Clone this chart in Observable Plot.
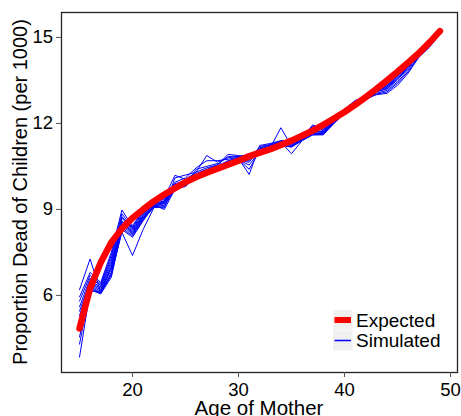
<!DOCTYPE html>
<html>
<head>
<meta charset="utf-8">
<script src="https://cdn.jsdelivr.net/npm/d3@7"></script>
<script src="https://cdn.jsdelivr.net/npm/@observablehq/plot@0.6"></script>
<style>
  html, body { margin: 0; padding: 0; background: #fff; }
  #chart { width: 461px; height: 416px; overflow: hidden; }
</style>
</head>
<body>
<div id="chart"></div>
<script>
// Age of mother (years)
const ages = [15, 16, 17, 18, 19, 20, 21, 22, 23, 24, 25, 26, 27, 28, 29, 30, 31, 32,
              33, 34, 35, 36, 37, 38, 39, 40, 41, 42, 43, 44, 45, 46, 47, 48, 49];

// Expected proportion dead of children (per 1000)
const expected = [4.85, 6.25, 7.15, 7.85, 8.33, 8.70, 9.00, 9.28, 9.52, 9.74, 9.95,
                  10.13, 10.28, 10.42, 10.56, 10.70, 10.85, 10.98, 11.10, 11.25, 11.40,
                  11.57, 11.75, 11.95, 12.17, 12.40, 12.65, 12.92, 13.20, 13.50, 13.80,
                  14.12, 14.45, 14.82, 15.22];

// Simulated runs, one row per run, one value per age
const simulated = [
  [6.20, 7.27, 6.10, 7.00, 8.40, 8.44, 8.95, 9.28, 9.40, 10.19, 10.05, 10.30, 10.88, 10.65, 10.80, 10.85, 10.90, 11.10, 11.20, 11.30, 11.35, 11.50, 11.95, 11.80, 12.15, 12.45, 12.75, 12.92, 13.30, 13.40, 13.80, 14.20, 14.55, 14.85, 15.20],
  [5.95, 6.80, 6.45, 7.50, 8.98, 8.40, 8.90, 9.25, 9.35, 9.95, 10.10, 10.45, 10.70, 10.70, 10.75, 10.82, 10.85, 11.05, 11.15, 11.85, 11.20, 11.45, 11.70, 11.72, 12.05, 12.40, 12.70, 12.88, 13.25, 13.35, 13.72, 14.12, 14.50, 14.82, 15.18],
  [5.80, 6.70, 6.40, 7.40, 8.85, 8.36, 8.85, 9.20, 9.30, 9.90, 10.00, 10.25, 10.40, 10.55, 10.92, 10.88, 10.80, 11.15, 11.25, 11.35, 10.94, 11.40, 11.65, 11.65, 12.00, 12.38, 12.65, 12.85, 13.20, 13.30, 13.65, 14.05, 14.45, 14.78, 15.16],
  [5.60, 6.60, 6.35, 7.30, 8.75, 8.32, 8.80, 9.18, 9.28, 9.85, 9.95, 10.20, 10.35, 10.50, 10.70, 10.80, 10.95, 11.00, 11.10, 11.25, 11.30, 11.48, 11.80, 11.78, 12.10, 12.42, 12.72, 12.90, 13.15, 13.25, 13.58, 13.98, 14.42, 14.75, 15.15],
  [5.45, 6.50, 6.30, 7.20, 8.70, 8.28, 8.78, 9.15, 9.25, 9.82, 9.92, 10.18, 10.30, 10.48, 10.65, 10.78, 10.22, 11.23, 11.30, 11.40, 11.40, 11.55, 11.90, 11.85, 12.20, 12.50, 12.80, 12.95, 13.10, 13.20, 13.52, 13.92, 14.38, 14.72, 15.14],
  [5.30, 6.45, 6.25, 7.10, 8.60, 8.24, 8.75, 9.12, 9.22, 9.80, 9.90, 10.15, 10.28, 10.45, 10.62, 10.75, 10.40, 11.05, 11.18, 11.28, 11.25, 11.45, 11.62, 11.68, 12.05, 12.40, 12.68, 12.86, 13.05, 13.15, 13.45, 13.86, 14.35, 14.70, 15.13],
  [5.15, 6.40, 6.20, 7.00, 8.55, 8.20, 8.72, 9.10, 9.20, 9.78, 9.88, 10.12, 10.25, 10.42, 10.60, 10.72, 10.55, 11.02, 11.12, 11.22, 11.20, 11.42, 11.60, 11.62, 12.02, 12.36, 12.63, 12.82, 13.02, 13.10, 13.40, 13.80, 14.32, 14.68, 15.12],
  [5.00, 6.35, 6.15, 6.90, 8.50, 8.16, 8.70, 9.08, 9.15, 9.75, 9.85, 10.10, 10.22, 10.40, 10.58, 10.70, 10.65, 11.08, 11.22, 11.32, 11.28, 11.47, 11.75, 11.70, 12.08, 12.44, 12.70, 12.88, 13.00, 13.05, 13.33, 13.75, 14.30, 14.65, 15.10],
  [4.80, 6.30, 6.10, 6.80, 8.45, 8.12, 8.66, 9.06, 9.10, 9.72, 9.82, 10.40, 10.50, 10.60, 10.55, 10.68, 10.75, 11.12, 11.28, 11.38, 11.35, 11.52, 11.85, 11.75, 12.12, 12.47, 12.74, 12.92, 13.28, 13.38, 13.76, 14.15, 14.52, 14.84, 15.19],
  [4.55, 6.25, 6.08, 6.70, 8.35, 8.08, 8.62, 9.10, 9.05, 10.10, 10.20, 10.30, 10.45, 10.55, 10.85, 10.85, 10.88, 11.00, 11.15, 11.24, 11.17, 11.40, 11.60, 11.60, 12.00, 12.35, 12.60, 12.80, 13.22, 13.32, 13.68, 14.08, 14.48, 14.80, 15.17],
  [4.30, 6.20, 6.05, 6.63, 8.30, 8.03, 8.60, 9.15, 9.00, 9.70, 9.80, 10.15, 10.20, 10.45, 10.50, 10.65, 10.70, 11.20, 11.25, 11.35, 11.38, 11.50, 11.70, 11.70, 12.10, 12.43, 12.72, 12.90, 13.12, 13.22, 13.55, 13.95, 14.40, 14.74, 15.14],
  [3.85, 6.15, 6.12, 6.75, 8.20, 7.39, 8.30, 9.05, 9.30, 9.85, 9.95, 10.22, 10.35, 10.50, 10.68, 10.80, 10.92, 11.05, 11.10, 11.20, 11.22, 11.43, 11.65, 11.66, 12.03, 12.38, 12.66, 12.84, 13.18, 13.28, 13.62, 14.02, 14.44, 14.77, 15.15]
];

const xTicks = [20, 30, 40, 50];
const yTicks = [6, 9, 12, 15];
const legendLabels = ["Expected", "Simulated"];
const legendColors = ["#ff0000", "#0000ff"];

const simRows = simulated.flatMap((run, i) =>
  run.map((value, j) => ({age: ages[j], value, run: i})));
const expRows = ages.map((age, j) => ({age, value: expected[j]}));

const W = 461, H = 416;
const mL = 61, mR = 4, mT = 12, mB = 44;

const plot = Plot.plot({
  width: W,
  height: H,
  marginLeft: mL,
  marginRight: mR,
  marginTop: mT,
  marginBottom: mB,
  style: {fontFamily: "'Liberation Sans', Arial, sans-serif", fontSize: "18.5px", color: "#000", background: "#fff"},
  x: {domain: [13.3, 50.66]},
  y: {domain: [3.31, 15.87]},
  marks: [
    Plot.line(simRows, {x: "age", y: "value", z: "run", stroke: legendColors[1], strokeWidth: 1}),
    Plot.line(expRows, {x: "age", y: "value", stroke: legendColors[0], strokeWidth: 6.5}),
    Plot.frame({stroke: "#222", strokeWidth: 1.3}),
    Plot.axisX({ticks: xTicks, tickSize: 5, tickPadding: 5.5, label: null, stroke: "#555", fill: "#000", fontSize: 18.5}),
    Plot.axisY({ticks: yTicks, tickSize: 5, tickPadding: 3.5, label: null, stroke: "#555", fill: "#000", fontSize: 18.5})
  ]
});

document.getElementById("chart").appendChild(plot);

// Axis titles and the legend inside the panel
const svg = d3.select(plot);
svg.append("text")
  .attr("x", (mL + W - mR) / 2)
  .attr("y", 414.5)
  .attr("text-anchor", "middle")
  .attr("font-size", 20.5)
  .attr("fill", "#000")
  .text("Age of Mother");

svg.append("text")
  .attr("transform", `translate(27.3, ${(mT + H - mB) / 2}) rotate(-90)`)
  .attr("text-anchor", "middle")
  .attr("font-size", 20)
  .attr("fill", "#000")
  .text("Proportion Dead of Children (per 1000)");

const legend = svg.append("g").attr("transform", "translate(333, 310)");
legendLabels.forEach((label, i) => {
  const g = legend.append("g").attr("transform", `translate(0, ${i * 20.5})`);
  g.append("rect").attr("x", 0).attr("y", 0).attr("width", 19.5).attr("height", 20)
    .attr("fill", "#f0f0f0");
  g.append("line").attr("x1", 1.5).attr("x2", 18).attr("y1", 10).attr("y2", 10)
    .attr("stroke", legendColors[i]).attr("stroke-width", i === 0 ? 6 : 1.5);
  g.append("text").attr("x", 23).attr("y", 10).attr("dy", "0.35em")
    .attr("text-anchor", "start")
    .attr("font-size", 19).attr("fill", "#000").text(label);
});
</script>
</body>
</html>
